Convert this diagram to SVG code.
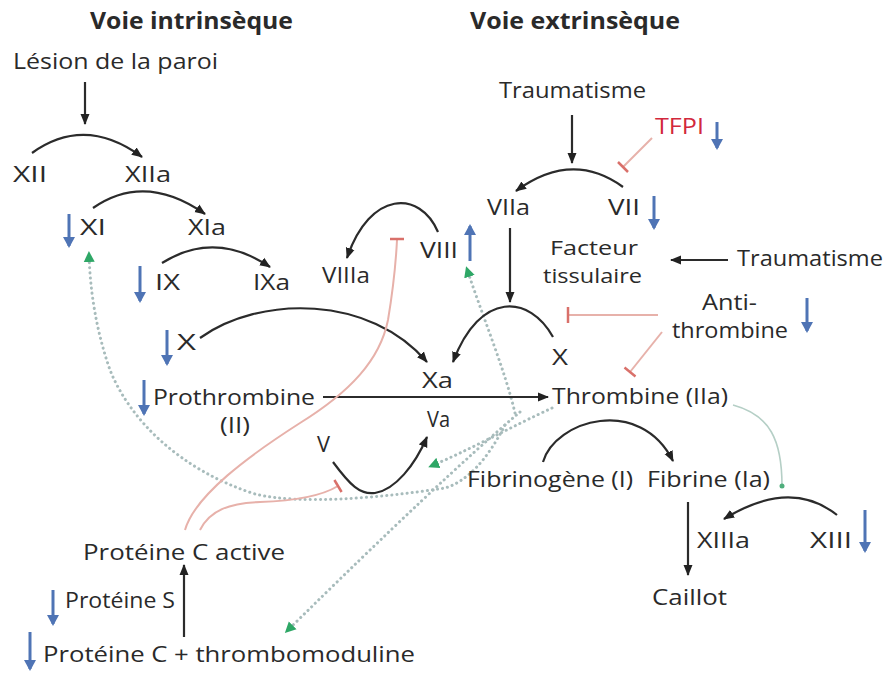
<svg xmlns="http://www.w3.org/2000/svg" width="888" height="676" viewBox="0 0 888 676">
<defs>
<style>
text{font-family:"Open Sans","Lato","Liberation Sans",sans-serif;font-size:22px;fill:#2a2a2a}
.b{font-weight:bold;font-size:24px}
.sm{font-size:20px}
.red{fill:#d2283c}
.kt{fill:none;stroke:#2b2b2b;stroke-width:2.2;marker-end:url(#ah)}
.inh{fill:none;stroke:#e7b1aa;stroke-width:2}
.bar{fill:none;stroke:#d9706a;stroke-width:2.5}
.dot{fill:none;stroke:#a8bcbc;stroke-width:3;stroke-dasharray:0.1 5;stroke-linecap:round;marker-end:url(#gh)}
.blue{fill:none;stroke:#4f74b5;stroke-width:3;marker-end:url(#bh)}
.thin{fill:none;stroke:#b5cfc6;stroke-width:1.6;marker-end:url(#gs)}
</style>
<marker id="ah" markerWidth="12" markerHeight="10" refX="10" refY="5" orient="auto" markerUnits="userSpaceOnUse"><path d="M0,0.5 L11,5 L0,9.5 z" fill="#222"/></marker>
<marker id="bh" markerWidth="12" markerHeight="12" refX="9" refY="6" orient="auto" markerUnits="userSpaceOnUse"><path d="M0,0 L11,6 L0,12 z" fill="#4f74b5"/></marker>
<marker id="gh" markerWidth="12" markerHeight="12" refX="8" refY="6" orient="auto" markerUnits="userSpaceOnUse"><path d="M0,0.5 L11,6 L0,11.5 z" fill="#2ea766"/></marker>
<marker id="gs" markerWidth="6" markerHeight="6" refX="3" refY="3" orient="auto" markerUnits="userSpaceOnUse"><circle cx="3" cy="3" r="2.5" fill="#4fae7c"/></marker>
</defs>
<rect width="888" height="676" fill="#ffffff"/>

<g id="connectors">
<path class="dot" d="M505,425 Q478,478 445,488 C380,498 300,505 255,494 C180,470 130,420 110,370 C96,330 90,290 89,254"/>
<path class="dot" d="M515,413 C505,370 482,315 467,269"/>
<path class="dot" d="M552,408 C515,425 465,452 431,466"/>
<path class="dot" d="M520,412 Q440,480 287,631"/>
<path class="thin" d="M733,405 C770,415 782,440 782,486"/>
<path class="kt" d="M85,82 L85,124"/>
<path class="kt" d="M32,153 Q85,115 142,157"/>
<path class="kt" d="M93,208 Q145,172 205,214"/>
<path class="kt" d="M162,263 Q215,230 270,267"/>
<path class="kt" d="M200,338 C260,295 370,295 427,362"/>
<path class="kt" d="M553,337 C530,295 480,290 453,362"/>
<path class="kt" d="M510,228 L510,302"/>
<path class="kt" d="M572,115 L572,163"/>
<path class="kt" d="M623,187 Q572,150 516,191"/>
<path class="kt" d="M438,232 C420,190 370,190 347,258"/>
<path class="kt" d="M728,260 L671,260"/>
<path class="kt" d="M323,397 L548,397"/>
<path class="kt" d="M333,462 C350,485 360,495 375,493 C395,490 415,465 427,437"/>
<path class="kt" d="M543,462 C555,420 640,395 673,461"/>
<path class="kt" d="M688,502 L688,575"/>
<path class="kt" d="M837,515 Q790,478 724,519"/>
<path class="kt" d="M184,637 L184,565"/>
<path class="inh" d="M652,138 L623,167"/>
<path class="bar" d="M618,162 L628,172"/>
<path class="inh" d="M658,315 L568,315"/>
<path class="bar" d="M568,307 L568,323"/>
<path class="inh" d="M662,332 L630,372"/>
<path class="bar" d="M624.5,367.6 L635.5,376.4"/>
<path class="inh" d="M185,530 C195,495 250,455 300,423 C350,392 380,360 388,320 C393,290 396,260 397,240"/>
<path class="bar" d="M390,239 L404,239"/>
<path class="inh" d="M200,530 C210,510 230,503 260,502 C290,501 320,497 338,486"/>
<path class="bar" d="M334.4,480 L341.6,492"/>
<path class="blue" d="M717,122 L717,148"/>
<path class="blue" d="M654,196 L654,228"/>
<path class="blue" d="M69,214 L69,246"/>
<path class="blue" d="M140,266 L140,301"/>
<path class="blue" d="M470,261 L470,226"/>
<path class="blue" d="M807,298 L807,331"/>
<path class="blue" d="M167,330 L167,364"/>
<path class="blue" d="M144,380 L144,414"/>
<path class="blue" d="M865,510 L865,551"/>
<path class="blue" d="M53,590 L53,624"/>
<path class="blue" d="M30,632 L30,669"/>
</g>

<g id="titre-intrinseque"><text class="b" x="90" y="29" textLength="203" lengthAdjust="spacingAndGlyphs">Voie intrinsèque</text></g>
<g id="titre-extrinseque"><text class="b" x="470" y="29" textLength="210" lengthAdjust="spacingAndGlyphs">Voie extrinsèque</text></g>
<g id="lesion"><text x="13" y="69" textLength="205" lengthAdjust="spacingAndGlyphs">Lésion de la paroi</text></g>
<g id="traumatisme1"><text x="499" y="98" textLength="147" lengthAdjust="spacingAndGlyphs">Traumatisme</text></g>
<g id="tfpi"><text class="red" x="655" y="134" textLength="49" lengthAdjust="spacingAndGlyphs">TFPI</text></g>
<g id="xii"><text x="13" y="182" textLength="34" lengthAdjust="spacingAndGlyphs">XII</text></g>
<g id="xiia"><text x="125" y="182" textLength="46" lengthAdjust="spacingAndGlyphs">XIIa</text></g>
<g id="xi"><text x="80" y="235" textLength="26" lengthAdjust="spacingAndGlyphs">XI</text></g>
<g id="xia"><text x="188" y="235" textLength="38" lengthAdjust="spacingAndGlyphs">XIa</text></g>
<g id="ix"><text x="155" y="290" textLength="25" lengthAdjust="spacingAndGlyphs">IX</text></g>
<g id="ixa"><text x="253" y="290" textLength="37" lengthAdjust="spacingAndGlyphs">IXa</text></g>
<g id="x-gauche"><text x="177" y="350" textLength="19" lengthAdjust="spacingAndGlyphs">X</text></g>
<g id="prothrombine"><text x="153" y="405" textLength="162" lengthAdjust="spacingAndGlyphs">Prothrombine</text><text x="220" y="433" textLength="30" lengthAdjust="spacingAndGlyphs">(II)</text></g>
<g id="viia"><text x="487" y="215" textLength="43" lengthAdjust="spacingAndGlyphs">VIIa</text></g>
<g id="vii"><text x="608" y="215" textLength="32" lengthAdjust="spacingAndGlyphs">VII</text></g>
<g id="facteur-tissulaire"><text class="sm" x="550" y="255" textLength="88" lengthAdjust="spacingAndGlyphs">Facteur</text><text class="sm" x="543" y="283" textLength="99" lengthAdjust="spacingAndGlyphs">tissulaire</text></g>
<g id="traumatisme2"><text x="737" y="266" textLength="146" lengthAdjust="spacingAndGlyphs">Traumatisme</text></g>
<g id="viii"><text x="420" y="258" textLength="38" lengthAdjust="spacingAndGlyphs">VIII</text></g>
<g id="viiia"><text x="322" y="283" textLength="48" lengthAdjust="spacingAndGlyphs">VIIIa</text></g>
<g id="antithrombine"><text x="702" y="310" textLength="55" lengthAdjust="spacingAndGlyphs">Anti-</text><text x="672" y="338" textLength="116" lengthAdjust="spacingAndGlyphs">thrombine</text></g>
<g id="x-droite"><text x="552" y="365" textLength="16" lengthAdjust="spacingAndGlyphs">X</text></g>
<g id="xa"><text x="422" y="388" textLength="31" lengthAdjust="spacingAndGlyphs">Xa</text></g>
<g id="va"><text x="427" y="427" textLength="23" lengthAdjust="spacingAndGlyphs">Va</text></g>
<g id="thrombine"><text x="552" y="404" textLength="176" lengthAdjust="spacingAndGlyphs">Thrombine (IIa)</text></g>
<g id="v"><text x="317" y="452" textLength="13" lengthAdjust="spacingAndGlyphs">V</text></g>
<g id="fibrinogene"><text x="467" y="487" textLength="166" lengthAdjust="spacingAndGlyphs">Fibrinogène (I)</text></g>
<g id="fibrine"><text x="647" y="487" textLength="123" lengthAdjust="spacingAndGlyphs">Fibrine (Ia)</text></g>
<g id="xiiia"><text x="697" y="548" textLength="53" lengthAdjust="spacingAndGlyphs">XIIIa</text></g>
<g id="xiii"><text x="810" y="548" textLength="42" lengthAdjust="spacingAndGlyphs">XIII</text></g>
<g id="caillot"><text x="652" y="605" textLength="75" lengthAdjust="spacingAndGlyphs">Caillot</text></g>
<g id="proteine-c-active"><text x="83" y="560" textLength="202" lengthAdjust="spacingAndGlyphs">Protéine C active</text></g>
<g id="proteine-s"><text x="65" y="608" textLength="110" lengthAdjust="spacingAndGlyphs">Protéine S</text></g>
<g id="proteine-c-thrombomoduline"><text x="43" y="662" textLength="372" lengthAdjust="spacingAndGlyphs">Protéine C + thrombomoduline</text></g>
</svg>
